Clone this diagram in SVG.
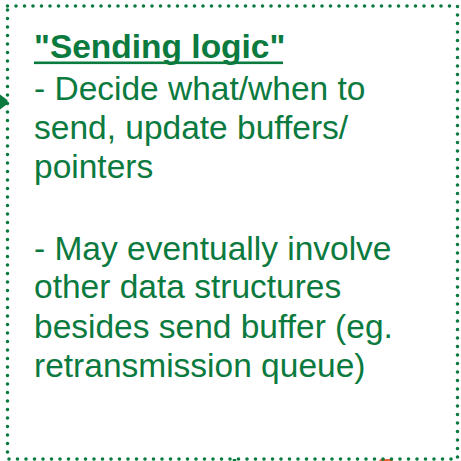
<svg xmlns="http://www.w3.org/2000/svg" width="461" height="461" viewBox="0 0 461 461">
  <style>
    .box { fill: #ffffff; stroke: #0b7a3e; stroke-width: 3.6; stroke-dasharray: 0 8.5; stroke-linecap: round; }
    .t { font-family: "Liberation Sans", Arial, Helvetica, sans-serif; font-size: 33.5px; fill: #0b7a3e; }
    .title { font-weight: bold; }
  </style>
  <rect width="461" height="461" fill="#ffffff"/>
  <g id="connectors">
    <polygon points="10,102 -2,93 -2,111" fill="#0b7a3e"/>
    <line x1="234.5" y1="456" x2="234.5" y2="462" stroke="#0b7a3e" stroke-width="3.5"/>
    <polygon points="386,453 378,462 394,462" fill="#e8643a"/>
  </g>
  <g id="sending-logic">
    <path class="box" d="M7.5 6 H457.5 V459 H7.5 Z"/>
    <text class="t title" x="34" y="58">"Sending logic"</text>
    <rect x="34" y="61.5" width="249" height="2.6" fill="#0b7a3e"/>
    <text class="t" x="34" y="100">- Decide what/when to</text>
    <text class="t" x="34" y="139">send, update buffers/</text>
    <text class="t" x="34" y="178">pointers</text>
    <text class="t" x="34" y="260">- May eventually involve</text>
    <text class="t" x="34" y="298">other data structures</text>
    <text class="t" x="34" y="338">besides send buffer (eg.</text>
    <text class="t" x="34" y="377">retransmission queue)</text>
  </g>
</svg>
